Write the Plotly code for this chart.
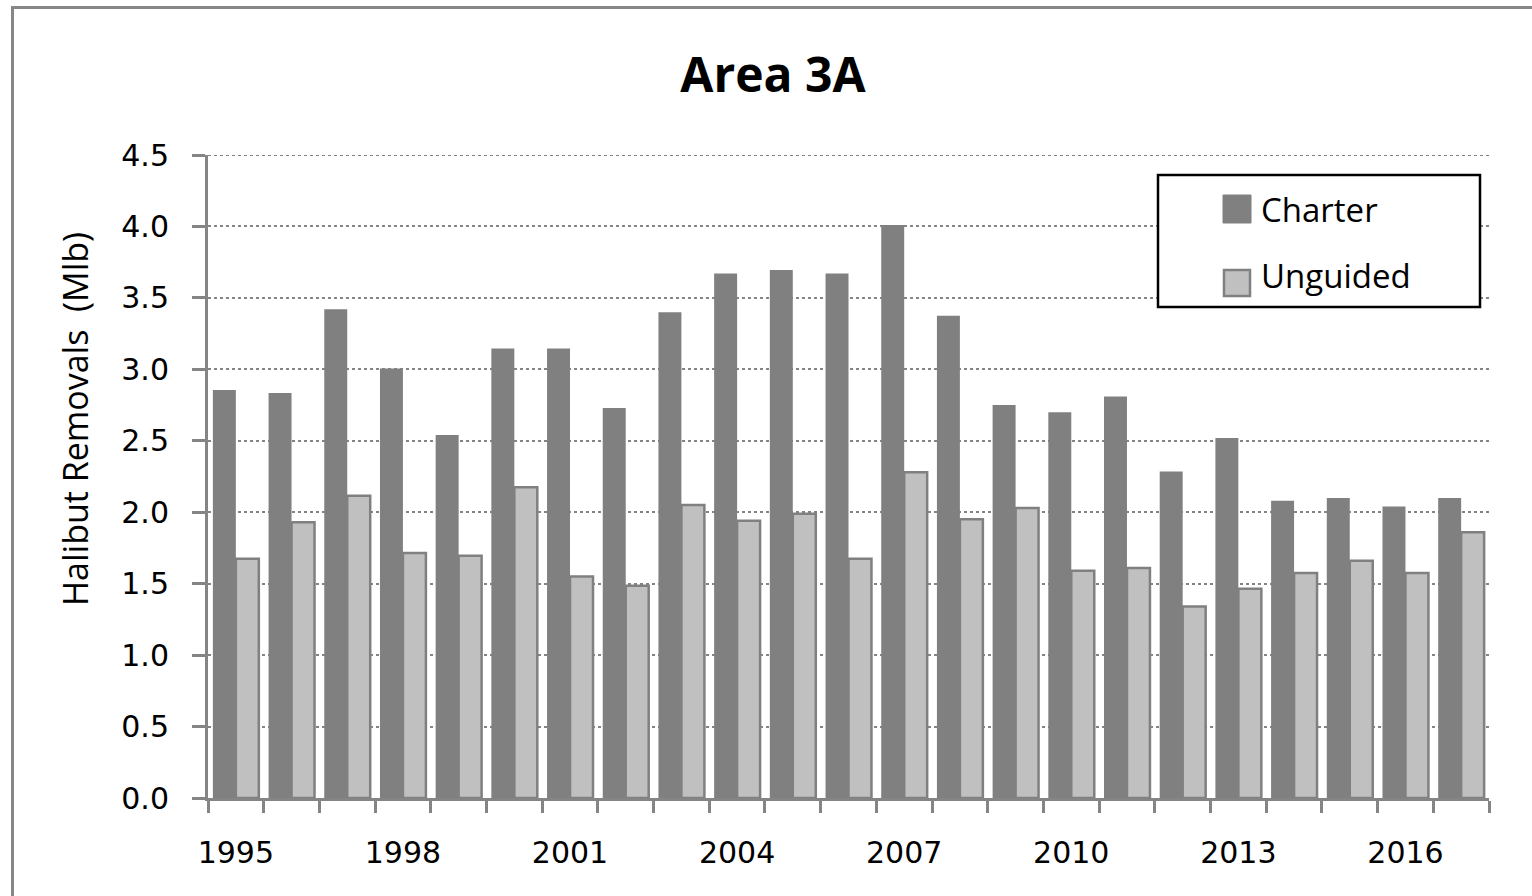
import plotly.graph_objects as go

# Area 3A recreational halibut removals (million lb)
years = list(range(1995, 2018))
charter = [2.855, 2.835, 3.42, 3.005, 2.54, 3.145, 3.145, 2.73, 3.40, 3.67, 3.695, 3.67,
           4.01, 3.375, 2.75, 2.70, 2.81, 2.285, 2.52, 2.08, 2.10, 2.04, 2.10]
unguided = [1.675, 1.93, 2.115, 1.715, 1.695, 2.175, 1.55, 1.485, 2.05, 1.94, 1.99, 1.675,
            2.28, 1.95, 2.03, 1.59, 1.61, 1.34, 1.465, 1.575, 1.66, 1.575, 1.86]
y_ticks = [0.0, 0.5, 1.0, 1.5, 2.0, 2.5, 3.0, 3.5, 4.0, 4.5]
x_label_years = list(range(1995, 2017, 3))
series_names = ["Charter", "Unguided"]

W, H = 1532, 896
L, R, T, B = 208, 1489, 155, 798  # plot-area pixel box
GRAY = "#858585"
DARK = "#808080"
LIGHT = "#C0C0C0"


def fx(px):
    return (px - L) / (R - L)


def fy(py):
    return (B - py) / (B - T)


fig = go.Figure()
fig.add_trace(go.Bar(x=years, y=charter, name=series_names[0],
                     marker=dict(color=DARK, line=dict(color=DARK, width=0))))
fig.add_trace(go.Bar(x=years, y=unguided, name=series_names[1],
                     marker=dict(color=LIGHT, line=dict(color=DARK, width=2.5))))

shapes = []
# outer chart frame (left and top edges visible)
shapes.append(dict(type="rect", xref="paper", yref="paper",
                   x0=fx(12.5), x1=fx(1560), y0=fy(7.5), y1=fy(930),
                   line=dict(color="#878787", width=3), fillcolor="rgba(0,0,0,0)",
                   layer="below"))
# top gridline at the upper end of the value axis
shapes.append(dict(type="line", xref="paper", yref="y",
                   x0=0, x1=1, y0=y_ticks[-1], y1=y_ticks[-1],
                   line=dict(color=GRAY, width=2, dash="dot"), layer="below"))
# legend box and swatches
shapes.append(dict(type="rect", xref="paper", yref="paper",
                   x0=fx(1158), x1=fx(1480), y0=fy(175), y1=fy(307),
                   line=dict(color="black", width=2.5), fillcolor="white", layer="above"))
shapes.append(dict(type="rect", xref="paper", yref="paper",
                   x0=fx(1223), x1=fx(1251), y0=fy(195), y1=fy(223),
                   line=dict(color=DARK, width=1), fillcolor=DARK, layer="above"))
shapes.append(dict(type="rect", xref="paper", yref="paper",
                   x0=fx(1224), x1=fx(1250), y0=fy(270), y1=fy(296),
                   line=dict(color=DARK, width=2.5), fillcolor=LIGHT, layer="above"))

annotations = [
    dict(text=series_names[0], xref="paper", yref="paper", x=fx(1259), y=fy(209),
         xanchor="left", yanchor="middle", showarrow=False,
         font=dict(family="Open Sans", size=33, color="black")),
    dict(text=series_names[1], xref="paper", yref="paper", x=fx(1259), y=fy(275),
         xanchor="left", yanchor="middle", showarrow=False,
         font=dict(family="Open Sans", size=33, color="black")),
    dict(text="Halibut Removals  (Mlb)", xref="paper", yref="paper", x=fx(75), y=fy(419),
         xanchor="center", yanchor="middle", textangle=-90, showarrow=False,
         font=dict(family="Open Sans", size=34, color="black")),
]

fig.update_layout(
    width=W, height=H,
    margin=dict(l=L, r=W - R, t=T, b=H - B),
    paper_bgcolor="white", plot_bgcolor="white",
    barmode="group", bargap=0.175, bargroupgap=0,
    showlegend=False,
    title=dict(text="<b>Area 3A</b>", x=773 / W, y=1 - 75 / H,
               xref="container", yref="container", xanchor="center", yanchor="middle",
               font=dict(family="Open Sans", size=48, color="black")),
    shapes=shapes, annotations=annotations,
    font=dict(family="DejaVu Sans", color="black"),
)

fig.update_xaxes(
    range=[1994.5, 2017.5],
    tickvals=x_label_years, ticktext=[str(y) for y in x_label_years],
    ticks="", showgrid=False, zeroline=False,
    showline=True, linecolor=GRAY, linewidth=3,
    tickfont=dict(family="DejaVu Sans", size=30, color="black"),
    ticklabelstandoff=26,
    minor=dict(tickvals=[y - 0.5 for y in years] + [years[-1] + 0.5],
               ticks="outside", ticklen=12, tickwidth=2.5, tickcolor=GRAY, showgrid=False),
)

fig.update_yaxes(
    range=[0, 4.5],
    tickvals=y_ticks, tickformat=".1f",
    ticks="outside", ticklen=13, tickwidth=2.5, tickcolor=GRAY,
    showline=True, linecolor=GRAY, linewidth=3,
    showgrid=True, gridcolor=GRAY, gridwidth=2, griddash="dot",
    zeroline=False,
    tickfont=dict(family="DejaVu Sans", size=30, color="black"),
    ticklabelstandoff=17,
)

fig.write_html("out.html")
